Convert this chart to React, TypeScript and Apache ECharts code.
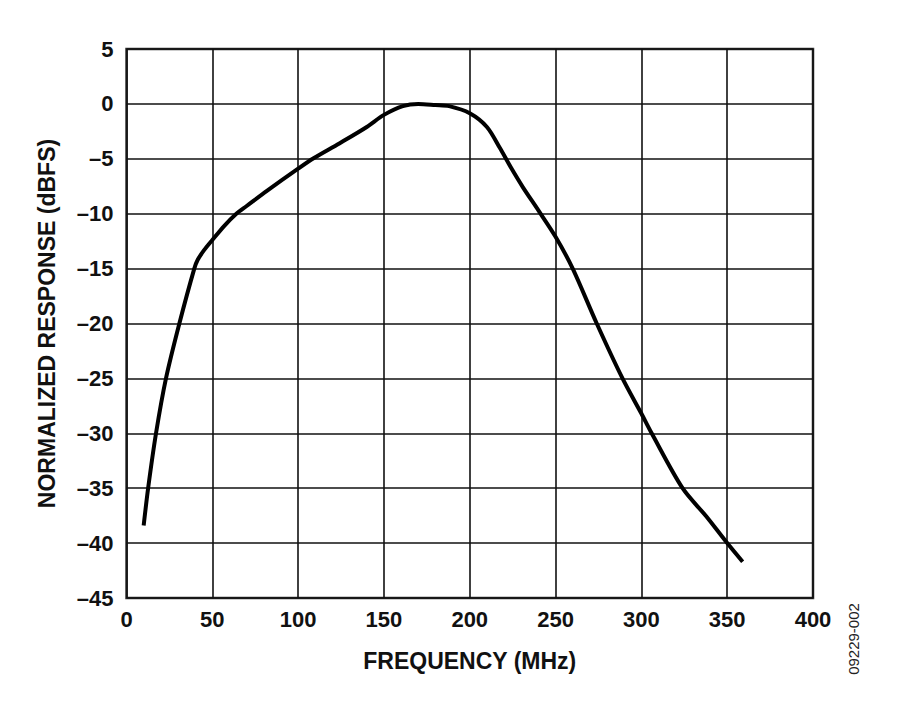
import React, { useEffect, useRef } from "react";
import * as echarts from "echarts";

const frequencyMHz = [10, 12.6, 17.2, 23, 30.8, 39.5, 41.5, 45.3, 50, 57, 64, 70, 82, 100, 109, 124, 140, 150, 161, 170, 180, 188, 200, 210, 217.5, 224, 231, 240, 250, 260, 274, 289, 300, 306, 324, 338, 350, 359];
const responseDBFS = [-38.4, -35, -30, -25, -20, -15, -14.2, -13.3, -12.4, -11.1, -10, -9.3, -7.9, -5.9, -4.95, -3.6, -2.1, -1.0, -0.2, 0, -0.1, -0.2, -0.85, -2.1, -4.0, -5.8, -7.6, -9.7, -12.1, -15, -20, -25, -28.2, -30, -35, -37.6, -40, -41.7];

const xTicks = { min: 0, max: 400, interval: 50 };
const yTicks = { min: -45, max: 5, interval: 5 };

const FONT = "'Liberation Sans', Arial, Helvetica, sans-serif";

export default function App() {
  const ref = useRef<HTMLDivElement>(null);
  useEffect(() => {
    if (!ref.current) return;
    const chart = echarts.init(ref.current, undefined, { renderer: "svg" });
    const data = frequencyMHz.map((f, i) => [f, responseDBFS[i]]);
    chart.setOption({
      animation: false,
      backgroundColor: "#ffffff",
      grid: {
        left: 126.5,
        right: 87,
        top: 49,
        bottom: 118,
        show: true,
        borderColor: "#333333",
        borderWidth: 2.5,
        backgroundColor: "transparent",
      },
      xAxis: {
        type: "value",
        min: xTicks.min,
        max: xTicks.max,
        interval: xTicks.interval,
        name: "FREQUENCY (MHz)",
        nameLocation: "middle",
        nameGap: 51,
        nameTextStyle: { fontFamily: FONT, fontWeight: "bold", fontSize: 23, color: "#111" },
        axisLine: { show: false },
        axisTick: { show: false },
        axisLabel: { fontFamily: FONT, fontWeight: "bold", fontSize: 22, color: "#111", margin: 10 },
        splitLine: { show: true, lineStyle: { color: "#111", width: 1.6 } },
      },
      yAxis: {
        type: "value",
        min: yTicks.min,
        max: yTicks.max,
        interval: yTicks.interval,
        name: "NORMALIZED RESPONSE (dBFS)",
        nameLocation: "middle",
        nameGap: 68,
        nameTextStyle: { fontFamily: FONT, fontWeight: "bold", fontSize: 23, color: "#111" },
        axisLine: { show: false },
        axisTick: { show: false },
        axisLabel: {
          fontFamily: FONT,
          fontWeight: "bold",
          fontSize: 22,
          color: "#111",
          margin: 13,
          formatter: (v: number) => String(v).replace("-", "\u2013"),
        },
        splitLine: { show: true, lineStyle: { color: "#111", width: 1.6 } },
      },
      graphic: [
        {
          type: "text",
          x: 853,
          y: 639,
          rotation: Math.PI / 2,
          style: {
            text: "09229-002",
            fontFamily: FONT,
            fontSize: 15,
            fill: "#222",
            align: "center",
            verticalAlign: "middle",
          },
        },
      ],
      series: [
        {
          type: "line",
          data,
          smooth: 0.3,
          showSymbol: false,
          symbol: "none",
          lineStyle: { color: "#000", width: 4 },
        },
      ],
    });
    return () => chart.dispose();
  }, []);
  return <div ref={ref} style={{ position: "fixed", left: 0, top: 0, width: 900, height: 716 }} />;
}
